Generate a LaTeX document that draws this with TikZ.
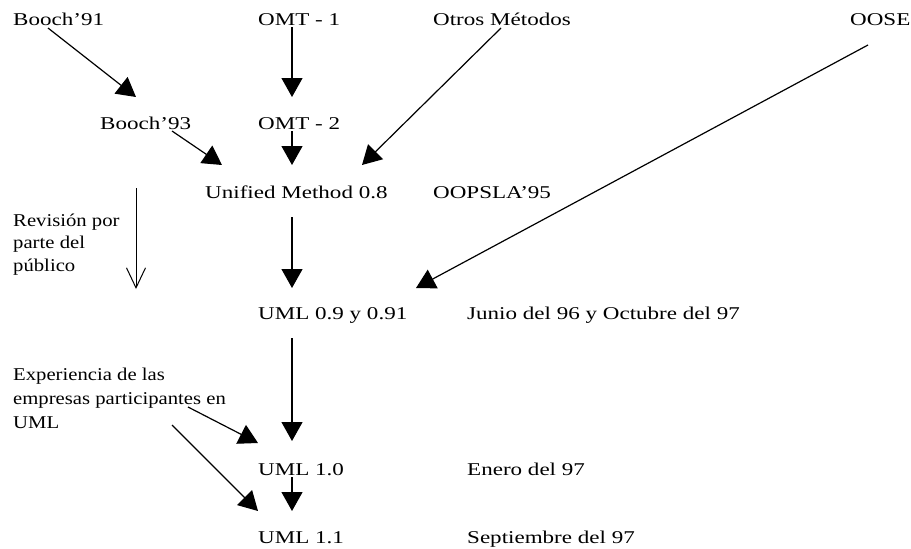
\documentclass[tikz,border=0pt]{standalone}
\usepackage{fontspec}
\setmainfont[FakeStretch=1.28]{Liberation Serif}
\newfontfamily\notefont[FakeStretch=1.15]{Liberation Serif}
\usetikzlibrary{arrows.meta}
\begin{document}
\begin{tikzpicture}[x=1pt,y=-1pt,
  lbl/.style={anchor=base west, inner sep=0pt, font=\fontsize{18}{22.5}\selectfont},
  note/.style={lbl, align=left, font=\notefont\fontsize{18}{22.5}\selectfont},
  flow/.style={line width=1.2pt, -{Triangle[length=19pt,width=21pt]}},
  review/.style={line width=1pt, -{Straight Barb[length=20pt,width=19pt,line width=1pt]}}]
\useasboundingbox (0,0) rectangle (911,549);

% methods and versions
\node[lbl] (b91)  at (13,25)   {Booch’91};
\node[lbl] (omt1) at (258,25)  {OMT - 1};
\node[lbl] (otros) at (433,25) {Otros Métodos};
\node[lbl] (oose) at (850,25)  {OOSE};
\node[lbl] (b93)  at (100,129) {Booch’93};
\node[lbl] (omt2) at (258,129) {OMT - 2};
\node[lbl] (um)   at (205,198) {Unified Method 0.8};
\node[lbl] (oopsla) at (433,198) {OOPSLA’95};
\node[lbl] (uml09) at (258,319) {UML 0.9 y 0.91};
\node[lbl] (d09)  at (467,319) {Junio del 96 y Octubre del 97};
\node[lbl] (uml10) at (258,475) {UML 1.0};
\node[lbl] (d10)  at (467,475) {Enero del 97};
\node[lbl] (uml11) at (258,543) {UML 1.1};
\node[lbl] (d11)  at (467,543) {Septiembre del 97};

% side notes (anchored on the baseline of their last line)
\node[note] (rev) at (13,271) {Revisión por\\parte del\\público};
\node[note, font=\notefont\fontsize{18}{24}\selectfont] (exp) at (13,428)
  {Experiencia de las\\empresas participantes en\\UML};

% connector end points
\coordinate (b91o) at (48,28);    \coordinate (b93i) at (136,97);
\coordinate (omt1o) at (292,27);  \coordinate (omt2i) at (292,97);
\coordinate (otroso) at (501,28); \coordinate (umi1) at (362,165);
\coordinate (b93o) at (172,131);  \coordinate (umi2) at (222,165);
\coordinate (omt2o) at (292,131); \coordinate (umi3) at (292,165);
\coordinate (ooseo) at (868,45);  \coordinate (uml09i1) at (416,288);
\coordinate (umo) at (292,217);   \coordinate (uml09i2) at (292,288);
\coordinate (revt) at (136,188);  \coordinate (revb) at (136,289);
\coordinate (uml09o) at (292,338); \coordinate (uml10i1) at (292,441);
\coordinate (expo1) at (188,407); \coordinate (uml10i2) at (258,443);
\coordinate (expo2) at (172,425); \coordinate (uml11i1) at (258,511);
\coordinate (uml10o) at (292,477); \coordinate (uml11i2) at (292,511);

% connectors
\draw[flow] (b91o) -- (b93i);
\draw[flow] (omt1o) -- (omt2i);
\draw[flow] (otroso) -- (umi1);
\draw[flow] (b93o) -- (umi2);
\draw[flow] (omt2o) -- (umi3);
\draw[flow] (ooseo) -- (uml09i1);
\draw[flow] (umo) -- (uml09i2);
\draw[review] (revt) -- (revb);
\draw[flow] (uml09o) -- (uml10i1);
\draw[flow] (expo1) -- (uml10i2);
\draw[flow] (expo2) -- (uml11i1);
\draw[flow] (uml10o) -- (uml11i2);
\end{tikzpicture}
\end{document}
